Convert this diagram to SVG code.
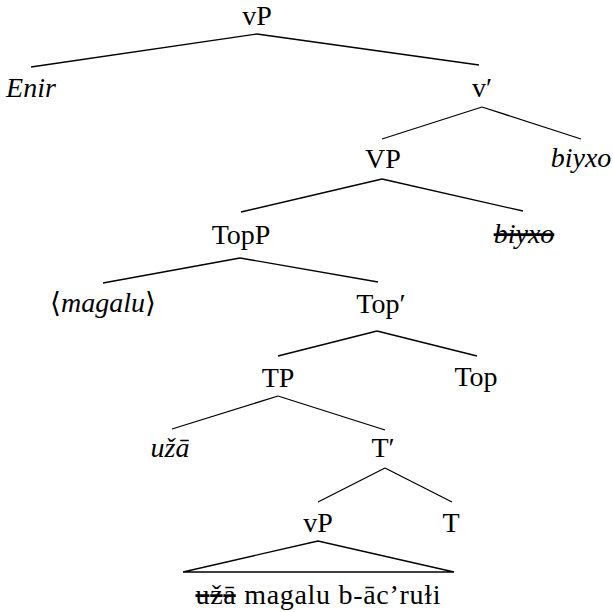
<svg xmlns="http://www.w3.org/2000/svg" width="613" height="612" viewBox="0 0 613 612">
<style>
text{font-family:"Liberation Serif","DejaVu Serif",serif;font-size:28px;fill:#000;text-anchor:middle}
.i{font-style:italic}
.s{text-decoration:line-through}
.e line,.e polygon{stroke:#000;stroke-width:1.3;fill:none}
</style>
<rect width="613" height="612" fill="#fff"/>
<g class="e" id="connectors">
<line x1="257" y1="34" x2="31" y2="67"/>
<line x1="257" y1="34" x2="479" y2="65"/>
<line x1="482" y1="107" x2="382" y2="139"/>
<line x1="482" y1="107" x2="581" y2="139"/>
<line x1="382" y1="179" x2="241" y2="212"/>
<line x1="382" y1="179" x2="523" y2="211"/>
<line x1="240" y1="258" x2="103" y2="283"/>
<line x1="240" y1="258" x2="378" y2="282"/>
<line x1="377" y1="331" x2="278" y2="356"/>
<line x1="377" y1="331" x2="477" y2="356"/>
<line x1="278" y1="396" x2="172" y2="429"/>
<line x1="278" y1="396" x2="385" y2="430"/>
<line x1="385" y1="468" x2="318" y2="502"/>
<line x1="385" y1="468" x2="452" y2="502"/>
<polygon points="318,541 183,572 454,572"/>
</g>
<g id="vP1"><text x="257" y="25">vP</text></g>
<g id="Enir"><text class="i" x="31" y="97">Enir</text></g>
<g id="vbar"><text x="482" y="97">v′</text></g>
<g id="VP"><text x="383" y="168">VP</text></g>
<g id="biyxo1"><text class="i" x="581" y="167">biyxo</text></g>
<g id="TopP"><text x="241" y="244">TopP</text></g>
<g id="biyxo2"><text class="i s" x="524" y="243">biyxo</text></g>
<g id="magalu"><text x="103" y="312">⟨<tspan class="i">magalu</tspan>⟩</text></g>
<g id="Topbar"><text x="381" y="313">Top′</text></g>
<g id="TP"><text x="278" y="387">TP</text></g>
<g id="Top"><text x="476" y="386">Top</text></g>
<g id="uza"><text class="i" x="170" y="457">užā</text></g>
<g id="Tbar"><text x="383" y="457">T′</text></g>
<g id="vP2"><text x="318" y="532">vP</text></g>
<g id="T"><text x="451" y="532">T</text></g>
<g id="leaf"><text x="318" y="604" textLength="245" lengthAdjust="spacing"><tspan class="s">užā</tspan> magalu b-āc’ruɫi</text></g>
</svg>
